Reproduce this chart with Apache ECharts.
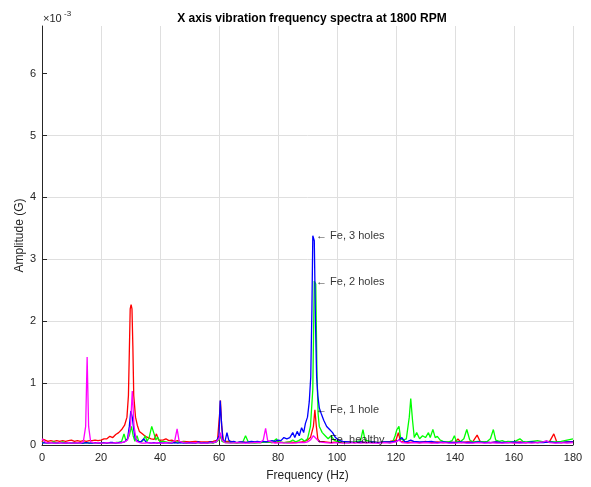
<!DOCTYPE html>
<html>
<head>
<meta charset="utf-8">
<script src="https://cdn.jsdelivr.net/npm/echarts@6/dist/echarts.min.js"></script>
<style>html,body{margin:0;padding:0;background:#fff}#c{width:591px;height:487px}</style>
</head>
<body>
<div id="c"></div>
<script>
// Values in units of 1e-3 G
const titleText = 'X axis vibration frequency spectra at 1800 RPM';
const xTicks = [0, 20, 40, 60, 80, 100, 120, 140, 160, 180];
const yTicks = [0, 1, 2, 3, 4, 5, 6];

const healthy = [[0,0.10],[0.5,0.12],[1,0.05],[2,0.03],[3,0.04],[4,0.03],[5,0.03],[6,0.04],[7,0.03],[8,0.03],[9,0.04],[10,0.03],[11,0.03],[12,0.04],[13,0.03],[14,0.05],[14.8,0.3],[15.3,1.42],[15.8,0.3],[16.5,0.05],[17,0.03],[18,0.03],[19,0.04],[20,0.03],[21,0.03],[22,0.04],[23,0.03],[24,0.03],[25,0.04],[26,0.03],[27,0.04],[28,0.05],[29,0.08],[30,0.3],[30.6,0.87],[31.2,0.3],[32,0.06],[33,0.04],[34,0.03],[35,0.03],[36,0.04],[37,0.03],[38,0.03],[39,0.04],[40,0.03],[41,0.03],[42,0.04],[43,0.03],[44,0.04],[45,0.07],[45.8,0.26],[46.5,0.06],[47,0.03],[48,0.04],[50,0.03],[52,0.04],[54,0.03],[56,0.03],[58,0.04],[59,0.05],[60,0.1],[60.5,0.2],[61,0.08],[62,0.04],[64,0.03],[66,0.04],[68,0.03],[70,0.03],[72,0.04],[74,0.04],[75,0.08],[75.8,0.27],[76.5,0.07],[77,0.04],[79,0.03],[81,0.04],[83,0.03],[85,0.03],[87,0.04],[89,0.04],[90,0.05],[91,0.08],[92,0.15],[93,0.1],[94,0.05],[96,0.04],[98,0.03],[100,0.04],[102,0.03],[104,0.03],[106,0.04],[108,0.03],[110,0.04],[112,0.03],[114,0.03],[116,0.04],[118,0.03],[120,0.05],[121,0.08],[122,0.04],[124,0.03],[126,0.04],[128,0.03],[130,0.04],[132,0.03],[134,0.03],[136,0.04],[138,0.03],[140,0.03],[142,0.04],[144,0.03],[146,0.03],[148,0.04],[150,0.03],[152,0.04],[154,0.03],[156,0.03],[158,0.04],[160,0.03],[162,0.03],[164,0.04],[166,0.03],[168,0.04],[170,0.05],[171,0.07],[172,0.04],[174,0.03],[176,0.04],[178,0.03],[180,0.04]];

const oneHole = [[0,0.05],[0.5,0.09],[1,0.07],[2,0.06],[3,0.07],[4,0.06],[5,0.07],[6,0.06],[7,0.07],[8,0.06],[9,0.07],[10,0.08],[11,0.06],[12,0.07],[13,0.06],[14,0.07],[15,0.06],[16,0.07],[17,0.07],[18,0.08],[19,0.07],[20,0.08],[21,0.1],[22,0.1],[23,0.14],[24,0.12],[25,0.17],[26,0.2],[27,0.25],[28,0.32],[28.8,0.45],[29.3,0.8],[29.6,1.5],[29.9,2.2],[30.2,2.27],[30.5,2.2],[30.8,1.6],[31.1,0.8],[31.7,0.45],[32.3,0.32],[33,0.22],[34,0.18],[35,0.14],[36,0.12],[37,0.1],[38,0.09],[38.8,0.18],[39.5,0.08],[40,0.1],[41,0.08],[42,0.1],[43,0.07],[44,0.08],[45,0.06],[46,0.07],[47,0.05],[48,0.06],[50,0.05],[52,0.06],[54,0.05],[56,0.05],[58,0.06],[59.5,0.08],[60.2,0.5],[60.5,0.72],[60.9,0.3],[61.5,0.06],[62,0.05],[64,0.06],[66,0.04],[68,0.05],[70,0.04],[72,0.05],[74,0.04],[76,0.05],[78,0.04],[80,0.05],[82,0.04],[84,0.05],[86,0.04],[88,0.05],[89,0.06],[90,0.08],[91,0.12],[92,0.3],[92.5,0.57],[93,0.3],[93.5,0.1],[94,0.06],[96,0.05],[98,0.04],[100,0.05],[102,0.04],[104,0.05],[106,0.04],[108,0.05],[110,0.04],[112,0.05],[114,0.04],[116,0.05],[118,0.06],[120,0.08],[120.8,0.2],[121.5,0.06],[122,0.05],[124,0.04],[126,0.05],[128,0.04],[130,0.06],[132,0.04],[134,0.05],[136,0.04],[138,0.05],[140,0.04],[141,0.1],[142,0.04],[144,0.05],[146,0.05],[147.5,0.16],[148.5,0.06],[150,0.05],[152,0.04],[154,0.05],[156,0.04],[158,0.05],[160,0.04],[162,0.05],[164,0.04],[166,0.05],[168,0.04],[170,0.05],[172,0.05],[173.5,0.18],[174.5,0.05],[176,0.04],[178,0.05],[180,0.05]];

const twoHoles = [[0,0.04],[1,0.04],[2,0.03],[3,0.04],[4,0.05],[5,0.03],[6,0.04],[7,0.05],[8,0.03],[9,0.04],[10,0.03],[11,0.04],[12,0.03],[13,0.04],[14,0.03],[15,0.04],[16,0.03],[17,0.04],[18,0.03],[19,0.04],[20,0.03],[21,0.04],[22,0.03],[23,0.04],[24,0.03],[25,0.04],[26,0.04],[27,0.06],[27.8,0.18],[28.5,0.06],[29,0.05],[29.6,0.15],[30.3,0.3],[30.9,0.15],[31.5,0.06],[32.2,0.15],[32.8,0.06],[33.5,0.05],[34.2,0.07],[35,0.15],[35.6,0.06],[36.3,0.12],[37.2,0.3],[38,0.18],[38.6,0.08],[39.2,0.13],[40,0.05],[41,0.06],[42,0.05],[43,0.04],[44,0.05],[45,0.04],[46,0.05],[47,0.04],[48,0.05],[49,0.03],[50,0.04],[51,0.03],[52,0.04],[54,0.03],[56,0.04],[58,0.03],[59,0.05],[60,0.08],[60.5,0.15],[61,0.06],[62,0.04],[64,0.04],[66,0.03],[68,0.04],[69,0.15],[70,0.04],[72,0.03],[74,0.04],[76,0.05],[78,0.04],[79.5,0.1],[80,0.05],[82,0.04],[84,0.05],[85,0.08],[86,0.05],[87,0.07],[88,0.1],[89,0.06],[90,0.1],[91,0.3],[91.8,0.9],[92.3,2.65],[92.8,2.6],[93.2,1.2],[93.6,0.5],[94,0.3],[95,0.2],[96,0.15],[97,0.1],[98,0.15],[99,0.08],[100,0.06],[102,0.05],[104,0.04],[106,0.05],[108,0.07],[108.8,0.25],[109.5,0.08],[110,0.05],[112,0.05],[114,0.04],[116,0.05],[118,0.04],[119,0.06],[119.7,0.15],[120.3,0.25],[121,0.3],[121.6,0.1],[122.5,0.08],[123.5,0.1],[124.5,0.45],[125,0.75],[125.6,0.4],[126.2,0.12],[127,0.2],[128,0.1],[129,0.15],[130,0.12],[131,0.2],[131.6,0.12],[132.5,0.25],[133.3,0.12],[134,0.14],[135,0.08],[136,0.06],[137,0.05],[138,0.05],[139,0.07],[139.8,0.15],[140.5,0.05],[142,0.06],[143,0.1],[144,0.25],[145,0.08],[146,0.05],[148,0.06],[150,0.05],[151,0.06],[152,0.1],[153,0.25],[153.8,0.08],[155,0.06],[156,0.07],[157,0.05],[158,0.06],[160,0.05],[162,0.1],[163,0.06],[164,0.05],[166,0.06],[168,0.07],[170,0.05],[172,0.06],[174,0.05],[176,0.06],[178,0.08],[180,0.1]];

const threeHoles = [[0,0.03],[1,0.04],[2,0.03],[3,0.04],[4,0.03],[5,0.03],[6,0.04],[7,0.03],[8,0.03],[9,0.04],[10,0.03],[11,0.03],[12,0.04],[13,0.03],[14,0.03],[15,0.04],[16,0.03],[17,0.03],[18,0.04],[19,0.03],[20,0.03],[21,0.04],[22,0.03],[23,0.04],[24,0.04],[25,0.03],[26,0.04],[27,0.04],[28,0.05],[29,0.1],[29.6,0.3],[30.1,0.55],[30.6,0.45],[31.1,0.25],[31.6,0.1],[32,0.12],[32.6,0.06],[33.5,0.05],[34.5,0.1],[35.2,0.05],[36,0.04],[37,0.03],[38,0.04],[39,0.03],[40,0.04],[41,0.03],[42,0.04],[43,0.03],[44,0.03],[45,0.04],[46,0.03],[47,0.04],[48,0.03],[50,0.04],[52,0.03],[53,0.05],[54,0.03],[55,0.04],[56,0.03],[57,0.05],[58,0.04],[59,0.05],[60,0.15],[60.4,0.72],[60.8,0.4],[61.3,0.08],[62,0.05],[62.7,0.2],[63.3,0.08],[64,0.05],[65,0.06],[66,0.04],[67,0.05],[68,0.05],[69,0.04],[70,0.05],[71,0.06],[72,0.05],[73,0.06],[74,0.05],[75,0.06],[76,0.05],[77,0.06],[78,0.07],[79,0.06],[80,0.08],[81,0.07],[82,0.12],[83,0.1],[84,0.12],[85,0.2],[85.7,0.12],[86.5,0.22],[87.2,0.15],[88,0.28],[88.7,0.2],[89.3,0.35],[90,0.45],[90.6,0.7],[91.1,1.1],[91.5,2.2],[91.8,3.38],[92.3,3.3],[92.7,2.0],[93.1,1.1],[93.5,0.8],[94,0.6],[94.7,0.5],[95.5,0.4],[96.5,0.3],[97.5,0.25],[98.5,0.2],[99.5,0.12],[100.5,0.08],[102,0.06],[104,0.05],[106,0.04],[108,0.05],[110,0.04],[112,0.05],[114,0.04],[116,0.05],[118,0.05],[120,0.06],[121,0.08],[122,0.12],[123,0.05],[124,0.06],[125,0.08],[126,0.06],[128,0.05],[130,0.05],[132,0.06],[134,0.04],[136,0.05],[138,0.04],[140,0.04],[142,0.05],[144,0.04],[146,0.04],[148,0.05],[150,0.04],[152,0.04],[154,0.05],[156,0.04],[158,0.04],[160,0.05],[162,0.04],[164,0.04],[166,0.05],[168,0.04],[170,0.04],[172,0.05],[174,0.04],[176,0.04],[178,0.05],[180,0.05]];

const annotNames = ['Fe, 3 holes', 'Fe, 2 holes', 'Fe, 1 hole', 'Fe, healthy'];
const annotX = [92.9, 92.9, 92.9, 92.9];
const annotY = [3.37, 2.63, 0.565, 0.08];

const chart = echarts.init(document.getElementById('c'), null, {renderer: 'canvas'});
const FONT = 'Liberation Sans, Arial, Helvetica, sans-serif';
const axisCol = '#262626';

function lineSeries(name, data, color) {
  return {name, type: 'line', data, showSymbol: false, symbol: 'none',
    lineStyle: {color, width: 1.3}, itemStyle: {color}, animation: false, z: 2};
}

chart.setOption({
  animation: false,
  textStyle: {fontFamily: FONT},
  title: {text: titleText, left: 307, top: 8, textAlign: 'center',
    textStyle: {fontSize: 12, fontWeight: 'bold', color: '#000', fontFamily: FONT}},
  grid: {left: 42, right: 18, top: 26, bottom: 41, containLabel: false},
  xAxis: {type: 'value', min: 0, max: 180, interval: 20,
    name: 'Frequency (Hz)', nameLocation: 'middle', nameGap: 25, nameMoveOverlap: false,
    nameTextStyle: {fontSize: 12, color: axisCol, fontFamily: FONT},
    axisLine: {show: true, onZero: false, lineStyle: {color: axisCol, width: 1}},
    axisTick: {show: true, inside: true, length: 5, lineStyle: {color: axisCol}},
    axisLabel: {fontSize: 11, color: axisCol, margin: 7, fontFamily: FONT,
      customValues: xTicks},
    splitLine: {show: true, lineStyle: {color: '#dfdfdf', width: 1}}},
  yAxis: {type: 'value', min: 0, max: 6.77, interval: 1,
    name: 'Amplitude (G)', nameLocation: 'middle', nameGap: 16, nameRotate: 90, nameMoveOverlap: false,
    nameTextStyle: {fontSize: 12, color: axisCol, fontFamily: FONT},
    axisLine: {show: true, onZero: false, lineStyle: {color: axisCol, width: 1}},
    axisTick: {show: true, inside: true, length: 5, lineStyle: {color: axisCol},
      customValues: yTicks},
    axisLabel: {fontSize: 11, color: axisCol, margin: 6, fontFamily: FONT,
      customValues: yTicks,
      formatter: v => (Math.abs(v - Math.round(v)) < 1e-6 ? String(Math.round(v)) : '')},
    splitLine: {show: true, showMaxLine: false, lineStyle: {color: '#dfdfdf', width: 1}}},
  graphic: [
    {type: 'text', left: 43, top: 13, style: {text: '\u00d710', font: '11px ' + FONT, fill: axisCol}},
    {type: 'text', left: 64, top: 10, style: {text: '-3', font: '8px ' + FONT, fill: axisCol}}
  ],
  series: [
    lineSeries('Fe, 1 hole', oneHole, '#ff0000'),
    lineSeries('Fe, 2 holes', twoHoles, '#00ff00'),
    lineSeries('Fe, 3 holes', threeHoles, '#0000ff'),
    lineSeries('Fe, healthy', healthy, '#ff00ff'),
    {type: 'scatter', symbolSize: 0, z: 5, silent: true,
      data: annotNames.map((n, i) => ({name: n, value: [annotX[i], annotY[i]]})),
      label: {show: true, position: 'right', distance: 0, formatter: '\u2190 {b}',
        fontSize: 11, color: '#000', fontFamily: FONT}}
  ]
});
</script>
</body>
</html>
